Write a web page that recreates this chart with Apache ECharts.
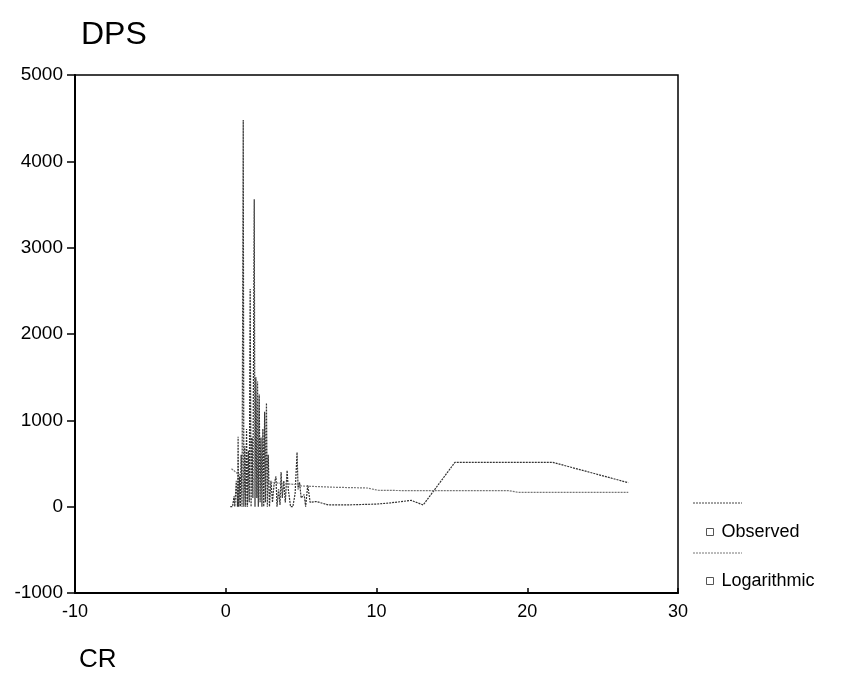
<!DOCTYPE html>
<html>
<head>
<meta charset="utf-8">
<script src="https://cdn.jsdelivr.net/npm/echarts@6/dist/echarts.min.js"></script>
<style>
  html, body { margin: 0; padding: 0; background: #fff; }
  #dps { width: 841px; height: 691px; }
</style>
</head>
<body>
<div id="dps"></div>
<script>
// observed CR / DPS pairs (spikes go up and back down)
var crObserved = [
  0.30, 0.45, 0.55, 0.60, 0.70, 0.78, 0.82, 0.86, 0.92, 0.97,
  1.02, 1.08, 1.16, 1.20, 1.26, 1.32, 1.38, 1.44, 1.50, 1.56,
  1.62, 1.68, 1.74, 1.80, 1.89, 1.94, 2.00, 2.06, 2.11, 2.16,
  2.22, 2.28, 2.34, 2.40, 2.46, 2.52, 2.58, 2.63, 2.70, 2.76,
  2.82, 2.90, 3.00, 3.10, 3.20, 3.33, 3.40, 3.50, 3.60, 3.67,
  3.75, 3.85, 3.95, 4.07, 4.15, 4.30, 4.45, 4.60, 4.73, 4.80,
  4.90, 5.00, 5.20, 5.30, 5.44, 5.60, 6.00, 6.80, 8.00, 9.00,
  10.0, 11.0, 12.3, 13.1, 15.2, 21.7, 26.7
];
var dpsObserved = [
  0, 0, 120, 0, 300, 0, 810, 0, 350, 0,
  600, 0, 4480, 0, 700, 0, 900, 0, 650, 50,
  2520, 0, 800, 100, 3560, 0, 1500, 100, 1450, 0,
  1300, 50, 800, 0, 900, 0, 1100, 50, 1200, 0,
  600, 0, 300, 50, 250, 350, 0, 200, 20, 400,
  100, 300, 50, 420, 200, 0, 0, 150, 630, 200,
  280, 100, 140, 0, 250, 50, 60, 20, 20, 25,
  30, 45, 73, 20, 513, 513, 278
];

// logarithmic fit
var crLog = [0.38, 0.8, 1.5, 2.0, 3.0, 4.0, 4.8, 5.0, 7.2, 9.4, 10.1, 12.0, 13.0, 18.8, 19.4, 26.7];
var dpsLog = [440, 380, 330, 310, 282, 265, 255, 240, 225, 216, 190, 186, 185, 185, 166, 166];

var xTicks = { min: -10, max: 30, interval: 10 };
var yTicks = { min: -1000, max: 5000, interval: 1000 };

function pairs(xs, ys) {
  return xs.map(function (x, i) { return [x, ys[i]]; });
}

var myChart = echarts.init(document.getElementById("dps"));

var font = "'Liberation Sans', Arial, sans-serif";

var option = {
  backgroundColor: "#fff",
  animation: false,
  textStyle: { fontFamily: font, color: "#000" },
  title: [
    { text: "DPS", left: 76, top: 14, textStyle: { fontSize: 32, fontWeight: "normal", color: "#000", fontFamily: font } },
    { text: "CR", left: 74, top: 642, textStyle: { fontSize: 26, fontWeight: "normal", color: "#000", fontFamily: font } }
  ],
  grid: {
    left: 75, right: 163, top: 75, bottom: 98,
    show: true, borderColor: "#000", borderWidth: 1.5
  },
  legend: {
    orient: "vertical",
    left: 701,
    top: 518,
    itemGap: 31,
    icon: "rect",
    itemWidth: 7,
    itemHeight: 7,
    itemStyle: { color: "#fff", borderColor: "#555", borderWidth: 1 },
    lineStyle: { width: 0 },
    textStyle: { fontSize: 18, fontFamily: font, color: "#000", padding: [0, 0, 0, 3] },
    data: ["Observed", "Logarithmic"]
  },
  graphic: [
    { type: "line", shape: { x1: 693, y1: 503, x2: 742, y2: 503 }, style: { stroke: "#444", lineWidth: 1, lineDash: [2, 1] } },
    { type: "line", shape: { x1: 693, y1: 553, x2: 742, y2: 553 }, style: { stroke: "#777", lineWidth: 1, lineDash: [2, 1] } }
  ],
  xAxis: {
    type: "value",
    min: xTicks.min, max: xTicks.max, interval: xTicks.interval,
    splitLine: { show: false },
    axisLine: { onZero: false, lineStyle: { color: "#000", width: 2 } },
    axisTick: { inside: true, length: 5, lineStyle: { color: "#000", width: 1.5 } },
    axisLabel: { fontSize: 18, color: "#000", margin: 10, fontFamily: font, formatter: function (v) { return String(v); } }
  },
  yAxis: {
    type: "value",
    min: yTicks.min, max: yTicks.max, interval: yTicks.interval,
    splitLine: { show: false },
    axisLine: { onZero: false, lineStyle: { color: "#000", width: 2 } },
    axisTick: { length: 8, lineStyle: { color: "#000", width: 1.5 } },
    axisLabel: { fontSize: 19, color: "#000", margin: 12, fontFamily: font, formatter: function (v) { return String(v); } }
  },
  series: [
    {
      name: "Observed",
      type: "line",
      symbol: "none",
      data: pairs(crObserved, dpsObserved),
      itemStyle: { color: "#333" },
      lineStyle: { color: "#333", width: 1.2, type: [2, 1] }
    },
    {
      name: "Logarithmic",
      type: "line",
      symbol: "none",
      data: pairs(crLog, dpsLog),
      itemStyle: { color: "#777" },
      lineStyle: { color: "#777", width: 1.2, type: [2, 1] }
    }
  ]
};
myChart.setOption(option);
</script>
</body>
</html>
